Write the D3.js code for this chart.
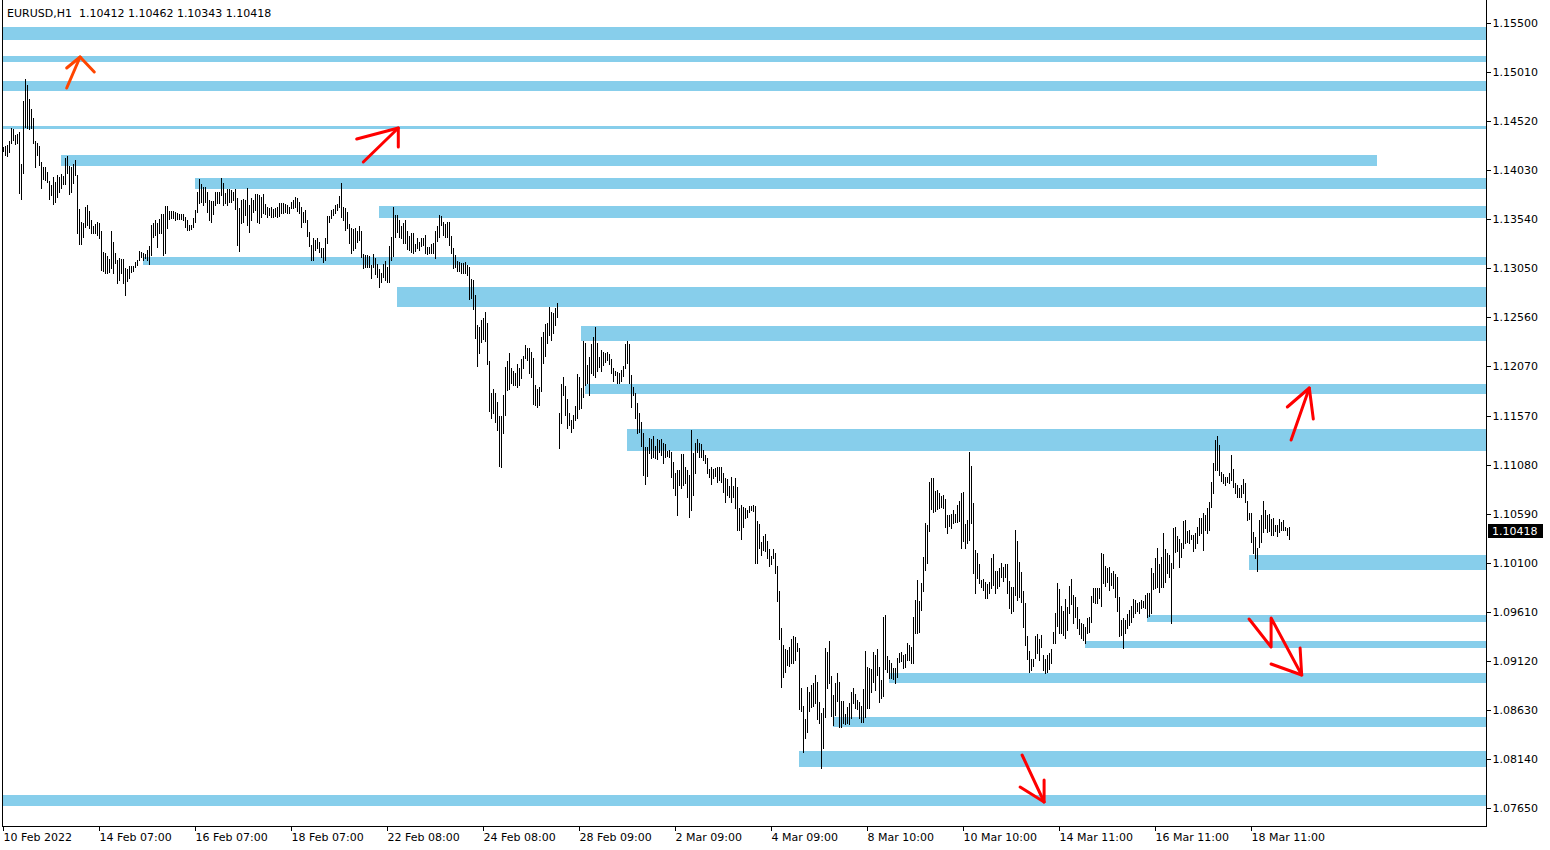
<!DOCTYPE html>
<html><head><meta charset="utf-8">
<script src="https://cdn.jsdelivr.net/npm/d3@7"></script>
<style>body{margin:0;background:#fff;overflow:hidden}svg{display:block}</style>
</head><body><svg id="c" width="1550" height="850"></svg>
<script>
// ---------- DATA ----------
const symbolTitle = "EURUSD,H1  1.10412 1.10462 1.10343 1.10418";
const lastClose = 1.10418;
const timeLabels = ["10 Feb 2022","14 Feb 07:00","16 Feb 07:00","18 Feb 07:00","22 Feb 08:00","24 Feb 08:00","28 Feb 09:00","2 Mar 09:00","4 Mar 09:00","8 Mar 10:00","10 Mar 10:00","14 Mar 11:00","16 Mar 11:00","18 Mar 11:00"];
const timeLabelBars = [0,48,96,144,192,240,288,336,384,432,480,528,576,624];
const priceTicks = [1.15500,1.15010,1.14520,1.14030,1.13540,1.13050,1.12560,1.12070,1.11570,1.11080,1.10590,1.10100,1.09610,1.09120,1.08630,1.08140,1.07650];
const priceTickLabels = ["1.15500","1.15010","1.14520","1.14030","1.13540","1.13050","1.12560","1.12070","1.11570","1.11080","1.10590","1.10100","1.09610","1.09120","1.08630","1.08140","1.07650"];

// H1 bar highs and lows, in 1/10000 (pips)
const highPips = [
11426,11427,11428,11432,11445,11444,11438,11439,11441,11409,
11472,11494,11488,11474,11464,11455,11432,11430,11427,11411,
11406,11406,11401,11392,11388,11396,11391,11398,11396,11399,
11397,11415,11417,11407,11406,11409,11413,11398,11364,11351,
11350,11366,11368,11362,11353,11347,11349,11351,11350,11342,
11321,11320,11317,11314,11342,11331,11320,11313,11315,11314,
11314,11305,11304,11307,11307,11307,11311,11313,11322,11321,
11320,11319,11323,11327,11348,11350,11353,11350,11354,11359,
11359,11367,11367,11362,11362,11362,11361,11360,11359,
11359,11359,11356,11353,11348,11348,11355,11363,11381,11394,11389,
11386,11386,11381,11373,11372,11372,11381,11381,11381,11395,
11390,11380,11384,11384,11383,11381,11384,11375,11365,11373,
11374,11373,11385,11368,11375,11373,11379,11379,11378,11376,
11379,11369,11366,11365,11366,11364,11365,11366,11370,11370,
11370,11369,11368,11366,11371,11373,11376,11375,11371,11366,
11361,11363,11353,11341,11328,11335,11333,11335,11331,11325,
11325,11335,11357,11357,11363,11364,11368,11369,11377,11390,
11366,11365,11361,11349,11345,11344,11345,11342,11347,
11342,11319,11318,11318,11317,11308,11319,11315,11309,11304,11300,
11309,11312,11306,11327,11336,11366,11358,11358,11353,11347,
11350,11353,11342,11337,11340,11340,11329,11335,11331,11335,
11335,11338,11326,11326,11329,11330,11342,11347,11358,11357,
11351,11349,11351,11351,11337,11325,11318,11312,11311,11310,
11310,11311,11308,11306,11294,11293,11278,11248,11246,11253,
11255,11261,11250,11212,11180,11184,11180,11171,11157,11157,
11178,11206,11212,11220,11205,11202,11200,11209,11205,11214,
11217,11228,11225,11225,11221,11215,11188,11184,11186,11236,
11241,11249,11250,11266,
11261,11260,11265,11270,11160,11189,
11196,11187,11174,11160,11153,11158,11167,11199,11196,11185,
11232,11230,11208,11216,11229,11236,11246,11230,11216,11223,
11221,11220,11221,11219,11214,11205,11202,11201,11200,11203,
11207,11229,11232,11229,11198,11186,11180,11170,11160,11151,
11140,11126,11126,11135,11134,11137,11127,11134,11133,11134,
11130,11129,11122,11123,11121,11111,11100,11103,11103,11119,
11119,11106,11103,11098,11143,11120,11130,11134,11130,11129,
11123,11118,11115,11104,11106,11104,11105,11106,11106,11106,
11100,11095,11094,11087,11096,11087,11095,11086,11065,
11068,11066,11065,11063,11067,11067,11068,11067,11052,11049,11031,
11037,11039,11032,11024,11017,11024,11020,11007,10982,10945,
10928,10924,10923,10926,10934,10937,10936,10930,10925,10885,
10867,10854,10886,10881,10888,10890,10898,10891,10871,10860,
10865,10925,10921,10932,10897,10878,10890,10900,10891,10872,
10872,10859,10866,10870,10881,10885,10879,10873,10871,10867,
10884,10922,10906,10905,10904,10921,10918,10924,10906,10893,
10956,10958,10917,10913,10910,10905,10905,10915,10920,10921,
10918,10919,10930,10928,10926,10956,10973,10993,10972,10990,
11016,11050,11048,11091,11095,11095,11082,11083,11080,11077,
11078,11074,11058,11058,11059,11063,11059,11068,11072,11080,
11081,11049,11053,11121,11107,11070,11023,11020,11009,10993,
10994,10991,10989,10991,
11015,11019,11002,11002,11005,11010,
11006,11009,11009,10992,10986,10986,11043,11032,11011,11001,
10982,10970,10937,10922,10914,10914,10937,10939,10934,10938,
10918,10914,10918,10920,10924,10941,10960,10990,10984,10967,
10962,10974,10966,10987,10994,10978,10976,10966,10954,10950,
10949,10946,10955,10956,10977,10985,10985,10985,10985,11020,
11019,11007,11005,11006,11000,11002,10999,10996,10976,10953,
10955,10953,10959,10963,10967,10974,10973,10970,10971,10973,
10972,10978,10980,10980,11005,11000,11015,11025,11009,11016,
11040,11024,11020,11018,11010,11045,11046,11037,11034,11030,
11052,11053,11042,11043,11038,11038,11040,11046,11055,11055,
11060,11058,11065,11071,11091,11110,11133,11137,11128,11101,
11099,11096,11096,11100,11118,11104,11090,11088,11085,11088,
11094,11090,11072,11060,11060,11041,11036,11025,11053,11058,
11072,11063,11058,11059,11054,11055,11048,11048,11054,11051,
11053,11046,11045,11046];

const lowPips = [
11422,11418,11417,11421,11430,11433,11429,11430,11380,11374,
11400,11446,11445,11444,11445,11430,11406,11418,11408,11385,
11394,11393,11391,11374,11378,11369,11371,11376,11381,11385,
11389,11389,11400,11379,11381,11390,11398,11340,11329,11329,
11336,11346,11348,11345,11340,11340,11340,11338,11335,11303,
11302,11300,11300,11301,11305,11300,11310,11290,11293,11300,
11290,11278,11292,11295,11301,11302,11306,11308,11313,11316,
11313,11315,11313,11309,11318,11336,11338,11326,11340,11340,
11318,11320,11345,11354,11355,11355,11353,11354,11354,
11354,11353,11346,11343,11343,11344,11346,11351,11361,11370,11371,
11368,11371,11361,11353,11351,11359,11368,11370,11370,11378,
11368,11370,11368,11371,11371,11373,11364,11328,11322,11350,
11351,11358,11348,11341,11353,11361,11363,11351,11350,11356,
11360,11359,11356,11358,11356,11356,11357,11356,11357,11360,
11360,11361,11360,11360,11365,11365,11366,11362,11360,11346,
11351,11351,11337,11327,11313,11313,11323,11325,11321,11316,
11311,11313,11330,11351,11355,11358,11360,11363,11366,11356,
11353,11343,11345,11330,11320,11323,11325,11331,11333,
11316,11305,11306,11306,11306,11295,11306,11299,11296,11286,11291,
11296,11293,11291,11291,11313,11317,11336,11341,11336,11335,
11330,11330,11324,11323,11321,11320,11322,11325,11323,11327,
11328,11320,11319,11320,11320,11320,11315,11332,11336,11348,
11338,11336,11336,11328,11320,11305,11306,11302,11302,11300,
11300,11300,11298,11274,11275,11264,11235,11207,11220,11231,
11234,11232,11209,11162,11155,11160,11151,11143,11107,11106,
11140,11158,11183,11184,11190,11188,11188,11186,11188,11195,
11205,11215,11213,11200,11196,11169,11168,11166,11168,11182,
11210,11217,11230,11238,
11233,11240,11248,11256,11125,11150,
11178,11158,11145,11148,11141,11145,11153,11155,11164,11165,
11176,11188,11190,11178,11200,11198,11196,11202,11206,11202,
11208,11211,11213,11209,11200,11192,11198,11190,11190,11192,
11197,11205,11210,11190,11166,11178,11155,11140,11141,11127,
11098,11089,11097,11120,11115,11116,11115,11114,11121,11118,
11110,11116,11117,11116,11096,11085,11078,11058,11088,11085,
11088,11090,11076,11056,11063,11078,11100,11121,11116,11116,
11113,11110,11100,11096,11089,11095,11097,11091,11093,11091,
11081,11071,11078,11076,11071,11076,11065,11043,11043,
11034,11046,11055,11056,11061,11063,11062,11010,11010,11025,11018,
11023,11022,11015,11007,11009,11015,11000,10972,10934,10886,
10896,10901,10908,10907,10910,10910,10913,10922,10864,10862,
10821,10835,10841,10862,10866,10867,10870,10854,10850,10805,
10825,10856,10885,10890,10857,10848,10858,10872,10846,10846,
10850,10849,10850,10849,10855,10870,10865,10864,10855,10851,
10851,10856,10865,10865,10881,10891,10883,10898,10871,10875,
10877,10904,10901,10895,10895,10894,10890,10896,10911,10912,
10905,10906,10913,10913,10910,10910,10940,10940,10941,10963,
10982,11003,11010,11042,11064,11061,11062,11064,11065,11066,
11065,11046,11040,11047,11045,11050,11051,11051,11052,11025,
11032,11025,11030,11033,11050,11000,10980,10995,10990,10986,
10983,10975,10975,10980,
10985,10988,10980,10985,10987,10996,
10992,10996,10980,10965,10960,10962,10978,10973,10976,10971,
10946,10928,10914,10901,10903,10907,10915,10920,10913,10926,
10903,10900,10901,10904,10910,10930,10930,10947,10940,10940,
10938,10935,10943,10960,10969,10950,10956,10945,10939,10935,
10933,10930,10940,10941,10951,10971,10970,10970,10975,10967,
10990,10987,10991,10983,10988,10985,10976,10962,10937,10938,
10925,10940,10945,10948,10951,10956,10960,10962,10960,10965,
10966,10965,10956,10957,10960,10984,10985,10986,10981,10986,
10986,10991,11000,10996,10950,11005,11021,11022,11006,11016,
11025,11030,11031,11030,11034,11022,11025,11030,11038,11040,
11023,11043,11040,11043,11066,11080,11103,11103,11098,11092,
11090,11088,11091,11090,11093,11086,11080,11076,11076,11076,
11080,11071,11053,11054,11031,11020,11015,11002,11026,11031,
11041,11045,11041,11042,11038,11038,11042,11037,11041,11043,
11043,11043,11038,11034];

// Supply/demand zones (pips) and the bar where each starts / ends (null = chart edge)
const zoneTop    = [11546,11517,11492,11447,11418,11395,11367,11316,11286,11247,11189,11144,11018,10958,10932,10900,10856,10822,10778];
const zoneBottom = [11533,11511,11482,11444,11407,11384,11355,11308,11266,11232,11179,11122,11003,10951,10925,10890,10846,10806,10767];
const zoneStart  = [0,0,0,0,29,96,188,70,197,289,291,312,623,572,541,443,415,398,0];
const zoneEnd    = [null,null,null,null,687,null,null,null,null,null,null,null,null,null,null,null,null,null,null];

// Hand-drawn arrows: [bar, pips] points of each stroke
const arrowColors = ["#ff4500","#ff0000","#ff0000","#ff0000","#ff0000"];
const arrowStrokes = [
  [[[31.6,11485],[38.3,11516]],[[31.6,11505],[38.3,11516],[45.4,11501]]],
  [[[179.9,11411],[197.4,11445]],[[176.6,11434],[197.4,11445],[197.4,11426]]],
  [[[643.8,11133],[652.9,11185]],[[641.9,11166],[652.9,11185],[654.9,11154]]],
  [[[622.8,10954],[633.8,10926],[633.8,10955],[649.1,10898]],[[633.8,10909],[649.1,10898],[648.3,10925]]],
  [[[509.3,10818],[520.3,10771]],[[508.3,10786],[520.3,10771],[520.3,10793]]]
];

// ---------- DRAW ----------
const svg = d3.select("#c");
const P = 10000;
const plotLeft = 2, plotRight = 1487, plotTop = 0, plotBottom = 826;
const x = d3.scaleLinear().domain([0, 1]).range([3.5, 5.5]);        // bar index -> px
const y = d3.scaleLinear().domain([1.0746, 1.1571]).range([827, 2]); // price -> px
const font = "'DejaVu Sans', Verdana, sans-serif";

svg.append("rect").attr("width",1550).attr("height",850).attr("fill","#fff");

const clip = svg.append("clipPath").attr("id","pc").append("rect")
  .attr("x",plotLeft+1).attr("y",plotTop).attr("width",plotRight-plotLeft-1).attr("height",plotBottom-plotTop);
const plot = svg.append("g").attr("clip-path","url(#pc)");

// zones
plot.append("g").selectAll("rect").data(zoneTop.map((t,i)=>i)).join("rect")
  .attr("x", i => Math.max(plotLeft+1, x(zoneStart[i]) - 0.5))
  .attr("y", i => y(zoneTop[i]/P))
  .attr("width", i => (zoneEnd[i]===null ? plotRight : x(zoneEnd[i]) - 0.5) - Math.max(plotLeft+1, x(zoneStart[i]) - 0.5))
  .attr("height", i => y(zoneBottom[i]/P) - y(zoneTop[i]/P))
  .attr("fill","#87ceeb").attr("shape-rendering","crispEdges");

// bars (high-low)
const n = Math.min(highPips.length, lowPips.length);
plot.append("g").selectAll("line").data(d3.range(n)).join("line")
  .attr("x1", i => x(i)).attr("x2", i => x(i))
  .attr("y1", i => y(highPips[i]/P))
  .attr("y2", i => y(lowPips[i]/P) + 1)
  .attr("stroke","#000").attr("stroke-width",1).attr("shape-rendering","crispEdges");

// arrows
const line = d3.line().x(d => x(d[0])).y(d => y(d[1]/P));
arrowStrokes.forEach((strokes, k) => {
  strokes.forEach(pts => {
    svg.append("path").attr("d", line(pts)).attr("fill","none")
      .attr("stroke", arrowColors[k]).attr("stroke-width",3)
      .attr("stroke-linejoin","round").attr("stroke-linecap","round");
  });
});

// frame
svg.append("line").attr("x1",plotLeft+0.5).attr("x2",plotLeft+0.5).attr("y1",0).attr("y2",plotBottom+0.5).attr("stroke","#000");
svg.append("line").attr("x1",plotRight-0.5).attr("x2",plotRight-0.5).attr("y1",0).attr("y2",plotBottom+0.5).attr("stroke","#000");
svg.append("line").attr("x1",plotLeft).attr("x2",plotRight).attr("y1",plotBottom+0.5).attr("y2",plotBottom+0.5).attr("stroke","#000");

// right price axis
const yAxis = d3.axisRight(y).tickValues(priceTicks).tickFormat((d,i)=>priceTickLabels[i]).tickSize(4).tickPadding(2);
const ga = svg.append("g").attr("transform",`translate(${plotRight-0.5},0)`).call(yAxis);
ga.select(".domain").remove();
ga.selectAll("line").attr("stroke","#000").attr("shape-rendering","crispEdges");
ga.selectAll("text").attr("font-family",font).attr("font-size",11).attr("fill","#000");

// bottom time axis
const xAxis = d3.axisBottom(x).tickValues(timeLabelBars).tickFormat((d,i)=>timeLabels[i]).tickSize(4).tickPadding(3);
const gx = svg.append("g").attr("transform",`translate(-0.5,${plotBottom+0.5})`).call(xAxis);
gx.select(".domain").remove();
gx.selectAll("line").attr("stroke","#000").attr("shape-rendering","crispEdges");
gx.selectAll("text").attr("font-family",font).attr("font-size",11).attr("fill","#000").attr("text-anchor","start");

// last price tag
const ly = Math.round(y(lastClose));
svg.append("rect").attr("x",plotRight+1).attr("y",ly-7).attr("width",55).attr("height",14).attr("fill","#000");
svg.append("text").attr("x",plotRight+5).attr("y",ly).attr("dy","0.35em")
  .attr("font-family",font).attr("font-size",11).attr("fill","#fff").text(d3.format(".5f")(lastClose));

// title
svg.append("text").attr("x",7).attr("y",17).attr("font-family",font).attr("font-size",11)
  .attr("fill","#000").style("white-space","pre").text(symbolTitle);
</script></body></html>
